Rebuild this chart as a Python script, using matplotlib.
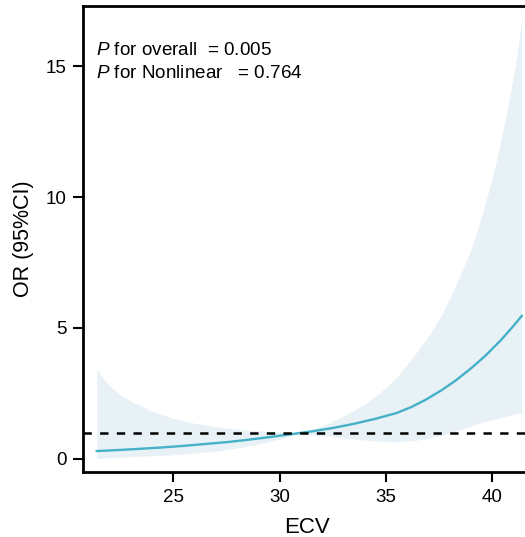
import matplotlib
matplotlib.use("Agg")
import matplotlib.pyplot as plt

plt.rcParams['font.family'] = ['Liberation Sans', 'DejaVu Sans']
plt.rcParams['mathtext.fontset'] = 'custom'
plt.rcParams['mathtext.it'] = 'Liberation Sans:italic'
plt.rcParams['mathtext.rm'] = 'Liberation Sans'
plt.rcParams['lines.scale_dashes'] = False

# OR curve
ecv = [21.4, 22.5, 23.5, 24.5, 25.5, 26.5, 27.5, 28.5, 29.5, 30.5, 31.5, 32.5,
       33.5, 34.5, 35.5, 36.2, 36.9, 37.6, 38.3, 39.0, 39.7, 40.4, 41.0, 41.4]
odds = [0.30, 0.344, 0.39, 0.44, 0.50, 0.57, 0.64, 0.73, 0.83, 0.94, 1.05, 1.18,
        1.34, 1.53, 1.75, 1.98, 2.27, 2.61, 3.00, 3.45, 3.95, 4.52, 5.07, 5.46]

# 95% CI band
ci_x = [21.4, 21.6, 21.8, 22.1, 22.5, 23.0, 24.0, 25.0, 26.0, 27.0, 28.0, 29.0,
        30.0, 30.8, 31.5, 32.4, 33.2, 34.0, 34.8, 35.55, 36.3, 37.1, 37.7, 38.2,
        38.6, 39.0, 39.4, 39.7, 40.0, 40.3, 40.6, 40.9, 41.15, 41.4]
ci_low = [0.02, 0.03, 0.04, 0.05, 0.065, 0.09, 0.12, 0.16, 0.22, 0.30, 0.42, 0.57,
          0.75, 0.96, 0.93, 0.85, 0.78, 0.72, 0.67, 0.66, 0.70, 0.80, 0.92, 1.04,
          1.14, 1.26, 1.36, 1.43, 1.49, 1.56, 1.62, 1.68, 1.72, 1.76]
ci_up = [3.46, 3.20, 2.98, 2.72, 2.45, 2.20, 1.82, 1.55, 1.36, 1.23, 1.13, 1.07,
         1.03, 0.99, 1.12, 1.40, 1.72, 2.08, 2.58, 3.14, 3.90, 4.80, 5.60, 6.45,
         7.20, 7.98, 8.95, 9.80, 10.70, 11.70, 12.85, 14.10, 15.30, 16.80]

ref_or = 1.0
x_ticks = [25, 30, 35, 40]
y_ticks = [0, 5, 10, 15]

fig = plt.figure(figsize=(5.25, 5.37), dpi=100)
ax = fig.add_axes([0.158, 0.121, 0.852, 0.868])

ax.fill_between(ci_x, ci_low, ci_up, color='#e8f1f5', linewidth=0)
ax.plot(ecv, odds, color='#45b1c7', linewidth=1.7)
ax.axhline(ref_or, color='black', linewidth=1.8, dashes=(6, 6))

ax.set_xlim(20.75, 41.8)
ax.set_ylim(-0.5, 17.3)
ax.set_xticks(x_ticks)
ax.set_yticks(y_ticks)
ax.tick_params(labelsize=13.5, length=7, width=1.5, colors='black', pad=5)

for s in ['left', 'bottom', 'top']:
    ax.spines[s].set_linewidth(2)
ax.spines['right'].set_visible(False)

ax.set_xlabel('ECV', fontsize=16, labelpad=8)
ax.set_ylabel('OR (95%CI)', fontsize=15.5, labelpad=8)

ax.text(0.029, 0.895, '$\\mathit{P}$ for overall  = 0.005', transform=ax.transAxes,
        fontsize=13.6, va='baseline')
ax.text(0.029, 0.845, '$\\mathit{P}$ for Nonlinear   = 0.764', transform=ax.transAxes,
        fontsize=13.6, va='baseline')

fig.savefig('out.png', dpi=100)
